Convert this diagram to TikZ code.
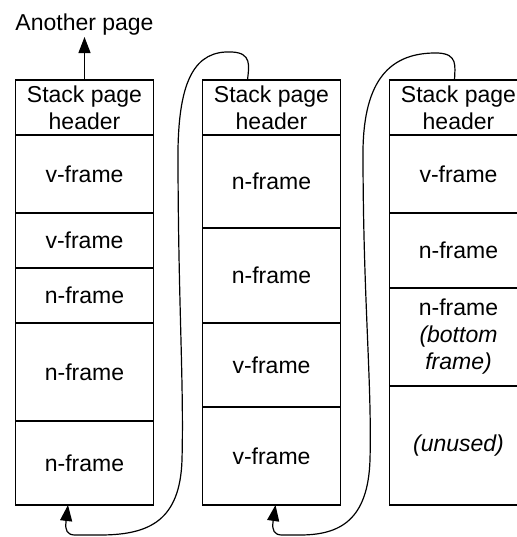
\documentclass[tikz,border=0pt]{standalone}
\usepackage{fontspec}
\setmainfont{Liberation Sans}
\usetikzlibrary{positioning,arrows.meta}

\begin{document}
\begin{tikzpicture}[x=0.5pt, y=-0.5pt,
	every node/.style={font=\fontsize{11.5}{13.5}\selectfont},
	cell/.style={draw, line width=0.6pt, minimum width=69pt, inner sep=0pt, outer sep=0pt, align=center},
	link/.style={line width=0.6pt, -{Triangle[length=8pt,width=6pt]}}]
\useasboundingbox (0,0) rectangle (517,537);
% first page
\node[cell, minimum height=27.5pt, anchor=north west] (ha) at (15.5,80) {Stack page\\header};
\node[cell, minimum height=39pt, below=0pt of ha] (a1) {v-frame};
\node[cell, minimum height=27.5pt, below=0pt of a1] (a2) {v-frame};
\node[cell, minimum height=27.5pt, below=0pt of a2] (a3) {n-frame};
\node[cell, minimum height=49pt, below=0pt of a3] (a4) {n-frame};
\node[cell, minimum height=42pt, below=0pt of a4] (a5) {n-frame};
% second page
\node[cell, minimum height=27.5pt, right=24.5pt of ha] (hb) {Stack page\\header};
\node[cell, minimum height=46.5pt, below=0pt of hb] (b1) {n-frame};
\node[cell, minimum height=47.5pt, below=0pt of b1] (b2) {n-frame};
\node[cell, minimum height=42pt, below=0pt of b2] (b3) {v-frame};
\node[cell, minimum height=49pt, below=0pt of b3] (b4) {v-frame};
% third page
\node[cell, minimum height=27.5pt, right=24.5pt of hb] (hc) {Stack page\\header};
\node[cell, minimum height=39pt, below=0pt of hc] (c1) {v-frame};
\node[cell, minimum height=37.5pt, below=0pt of c1] (c2) {n-frame};
\node[cell, minimum height=49pt, below=0pt of c2] (c3) {n-frame\\\textit{(bottom}\\\textit{frame)}};
\node[cell, minimum height=59.5pt, below=0pt of c3] (c4) {\textit{(unused)}};

\node[above=21.5pt of ha, inner sep=0.5pt] (top) {Another page};
\draw[link] (ha.north) -- (top.south);

% links back to the previous page
\draw[link] ([xshift=-12pt]hb.north) .. controls (249,66) and (252,53) .. (232,52)
	.. controls (195,50) and (179,80) .. (178,150)
	.. controls (178,300) and (184,380) .. (182,460)
	.. controls (180,520) and (150,535) .. (100,535) -- (75,535)
	.. controls (67,535) and (65,530) .. (66,522) -- ([xshift=-8.25pt]a5.south);
\draw[link] ([xshift=-2pt]hc.north) .. controls (455,66) and (458,54) .. (438,53)
	.. controls (390,52) and (364,80) .. (363,150)
	.. controls (363,300) and (372,380) .. (370,460)
	.. controls (368,520) and (340,535) .. (300,535) -- (282,535)
	.. controls (274,535) and (272,530) .. (273,522) -- ([xshift=2pt]b4.south);
\end{tikzpicture}
\end{document}
